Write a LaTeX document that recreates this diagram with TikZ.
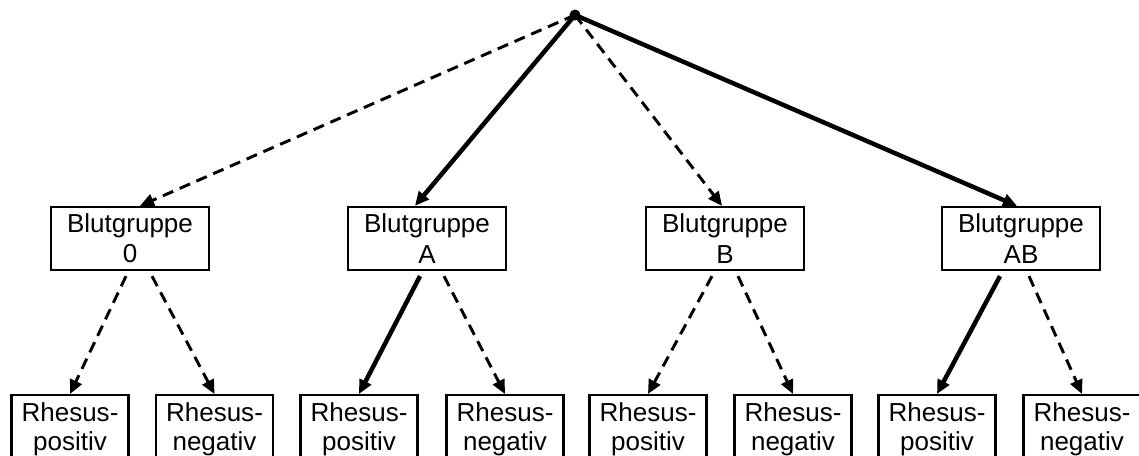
\documentclass[tikz,border=0pt]{standalone}
\usepackage{fontspec}
\setmainfont{Liberation Sans}
\usetikzlibrary{arrows.meta,positioning,calc}

\tikzset{
  group/.style={draw,line width=1.6pt,align=center,minimum width=3.95cm,
    minimum height=1.575cm,inner sep=2pt,font=\fontsize{18.5}{21.5}\selectfont},
  rhesus/.style={draw,line width=1.6pt,align=center,minimum width=2.925cm,
    inner ysep=5pt,inner xsep=2pt,anchor=north,font=\fontsize{18.5}{21}\selectfont},
  sure/.style={-{Triangle[length=10pt,width=9pt]},line width=3.2pt},
  maybe/.style={-{Triangle[length=10pt,width=9pt]},line width=2.1pt,dash pattern=on 8pt off 5pt},
}

\begin{document}
\begin{tikzpicture}[x=0.025cm,y=-0.025cm]
  \useasboundingbox (0,0) rectangle (1139,455);

  % ---- Root ---------------------------------------------------
  \coordinate (root) at (575,15);

  % ---- Blood groups -------------------------------------------
  \node[group] (g0)  at (130,238.5)  {Blutgruppe\\0};
  \node[group] (gA)  at (427,238.5)  {Blutgruppe\\A};
  \node[group] (gB)  at (725,238.5)  {Blutgruppe\\B};
  \node[group] (gAB) at (1021,238.5) {Blutgruppe\\AB};

  % ---- Rhesus factor ------------------------------------------
  \node[rhesus] (p0)  at (70,394)    {Rhesus-\\positiv};
  \node[rhesus] (n0)  at (214.5,394) {Rhesus-\\negativ};
  \node[rhesus] (pA)  at (359,394)   {Rhesus-\\positiv};
  \node[rhesus] (nA)  at (505,394)   {Rhesus-\\negativ};
  \node[rhesus] (pB)  at (648,394)   {Rhesus-\\positiv};
  \node[rhesus] (nB)  at (793,394)   {Rhesus-\\negativ};
  \node[rhesus] (pAB) at (937,394)   {Rhesus-\\positiv};
  \node[rhesus] (nAB) at (1082,394)  {Rhesus-\\negativ};

  % ---- First level --------------------------------------------
  \draw[maybe] (root) -- ($(g0.north)+(10,0)$);
  \draw[sure]  (root) -- ($(gA.north)+(-12,0)$);
  \draw[maybe] (root) -- ($(gB.north)+(-3,0)$);
  \draw[sure]  (root) -- ($(gAB.north)+(-4,0)$);
  \fill (root) circle (5.5);

  % ---- Second level -------------------------------------------
  \draw[maybe] ($(g0.south)+(-4,5)$)   -- (p0.north);
  \draw[maybe] ($(g0.south)+(22,5)$)   -- (n0.north);
  \draw[sure]  ($(gA.south)+(-7,5)$)   -- (pA.north);
  \draw[maybe] ($(gA.south)+(17,5)$)   -- (nA.north);
  \draw[maybe] ($(gB.south)+(-13,5)$)  -- (pB.north);
  \draw[maybe] ($(gB.south)+(13,5)$)   -- (nB.north);
  \draw[sure]  ($(gAB.south)+(-21,5)$) -- (pAB.north);
  \draw[maybe] ($(gAB.south)+(8,5)$)   -- (nAB.north);

\end{tikzpicture}
\end{document}
